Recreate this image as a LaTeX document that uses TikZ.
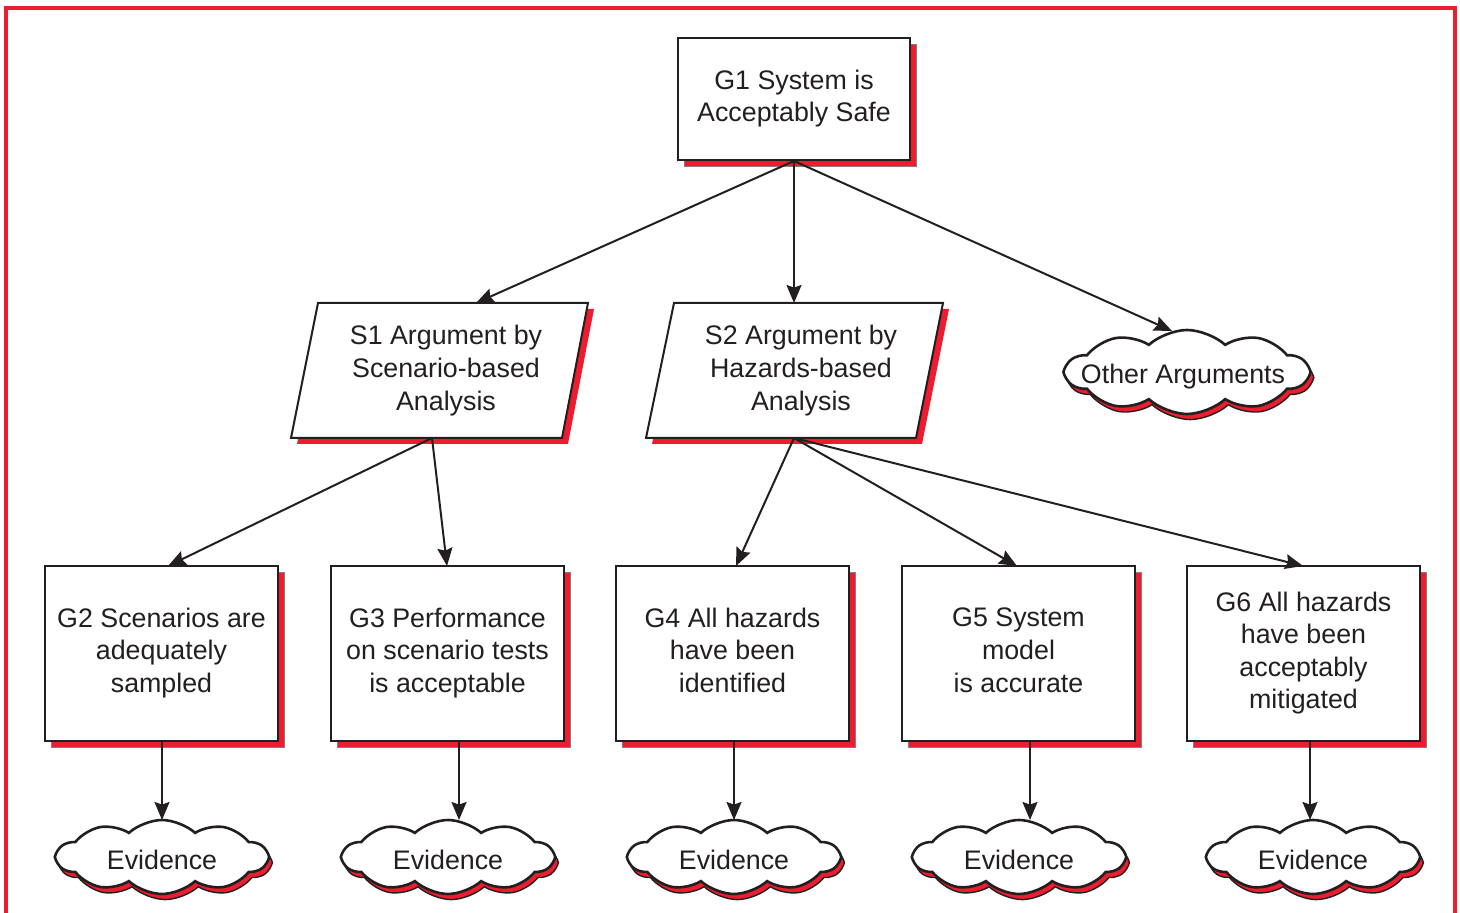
\documentclass[tikz,border=0pt]{standalone}
\usepackage{fontspec}
\setmainfont{Liberation Sans}
\usetikzlibrary{shapes.symbols,shadows,arrows.meta}
\definecolor{gsnred}{RGB}{237,28,46}
\definecolor{ink}{RGB}{35,31,32}
\tikzset{
  x=0.5pt, y=-0.5pt,
  txt/.style={font=\fontsize{13.4}{16.3}\selectfont, text=ink, align=center,
    execute at begin node={\rule{0pt}{13pt}}, execute at end node={\rule[-3.3pt]{0pt}{0pt}}},
  gbox/.style={txt, draw=ink, line width=1pt, fill=white, inner sep=0pt,
    copy shadow={shadow xshift=3pt, shadow yshift=-3pt, fill=gsnred, draw=gray, line width=0.4pt}},
  cloudsh/.style={cloud, cloud puffs=10, cloud puff arc=85,
    draw=ink, line width=1.3pt, fill=white, inner sep=0pt,
    copy shadow={shadow xshift=1.6pt, shadow yshift=-2.8pt, fill=gsnred, draw=ink, line width=0.7pt}},
  arr/.style={draw=ink, line width=1pt, -{Stealth[length=9pt, width=7.5pt, inset=1.3pt]}},
}
\begin{document}
\begin{tikzpicture}
\useasboundingbox (0,0) rectangle (1460,913);
% frame
\draw[gsnred, line width=1.6pt] (6,920) -- (6,8) -- (1455,8) -- (1455,920);

% G1
\node[gbox, minimum width=116pt, minimum height=61pt] (g1) at (794,99) {G1 System is\\Acceptably Safe};

% S1 parallelogram
\fill[gsnred] (324,309) -- (594,309) -- (568,444) -- (297,444) -- cycle;
\draw[ink, line width=1pt, fill=white] (318,303) -- (588,303) -- (562,438) -- (291,438) -- cycle;
\node[txt] (s1) at (446,371) {S1 Argument by\\Scenario-based\\Analysis};
% S2 parallelogram
\fill[gsnred] (680,309) -- (949,309) -- (922,444) -- (652,444) -- cycle;
\draw[ink, line width=1pt, fill=white] (674,303) -- (943,303) -- (916,438) -- (646,438) -- cycle;
\node[txt] (s2) at (801,371) {S2 Argument by\\Hazards-based\\Analysis};

\coordinate (s1top) at (476,303);
\coordinate (s2top) at (794,303);
\coordinate (s1bot) at (432,438);
\coordinate (s2bot) at (794,438);

% Other arguments
\node[cloudsh, minimum width=121pt, minimum height=42pt] (oa) at (1187,372) {};
\node[txt] (oat) at (1183,374) {Other Arguments};
\coordinate (oatop) at (1172,331);

% G boxes
\node[gbox, minimum width=116.5pt, minimum height=87.5pt] (g2) at (161.5,653.5) {G2 Scenarios are\\adequately\\sampled};
\node[gbox, minimum width=116.5pt, minimum height=87.5pt] (g3) at (447.5,653.5) {G3 Performance\\on scenario tests\\is acceptable};
\node[gbox, minimum width=116.5pt, minimum height=87.5pt] (g4) at (732.5,653.5) {G4 All hazards\\have been\\identified};
\node[gbox, minimum width=116.5pt, minimum height=87.5pt] (g5) at (1018.5,653.5) {G5 System\\model\\is accurate};
\node[gbox, minimum width=116.5pt, minimum height=87.5pt] (g6) at (1303.5,653.5) {G6 All hazards\\have been\\acceptably\\mitigated};

\coordinate (g2t) at (168,566);
\coordinate (g3t) at (447,566);
\coordinate (g4t) at (736,566);
\coordinate (g5t) at (1017,566);
\coordinate (g6t) at (1303,566);

% Evidence clouds
\foreach \n/\x in {2/162,3/448,4/734,5/1019,6/1313}{
  \node[cloudsh, minimum width=105pt, minimum height=37pt] (e\n) at (\x,857) {};
  \node[txt] (et\n) at (\x,860) {Evidence};
}

\coordinate (b2) at (162,741); \coordinate (t2) at (162,820);
\coordinate (b3) at (459,741); \coordinate (t3) at (459,820);
\coordinate (b4) at (734,741); \coordinate (t4) at (734,820);
\coordinate (b5) at (1030,741); \coordinate (t5) at (1030,820);
\coordinate (b6) at (1310,741); \coordinate (t6) at (1310,820);

% connectors
\draw[arr] (g1.south) -- (s1top);
\draw[arr] (g1.south) -- (s2top);
\draw[arr] (g1.south) -- (oatop);
\draw[arr] (s1bot) -- (g2t);
\draw[arr] (s1bot) -- (g3t);
\draw[arr] (s2bot) -- (g4t);
\draw[arr] (s2bot) -- (g5t);
\draw[arr] (s2bot) -- (g6t);
\draw[arr] (b2) -- (t2);
\draw[arr] (b3) -- (t3);
\draw[arr] (b4) -- (t4);
\draw[arr] (b5) -- (t5);
\draw[arr] (b6) -- (t6);
\end{tikzpicture}
\end{document}
